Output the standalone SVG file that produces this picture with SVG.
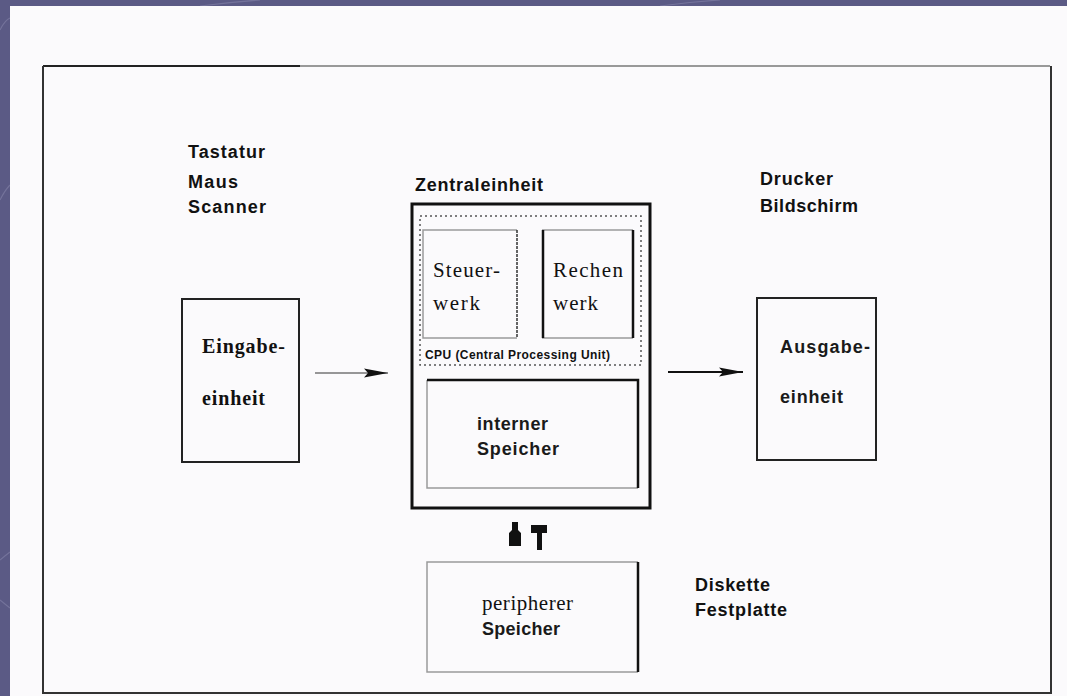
<svg xmlns="http://www.w3.org/2000/svg" width="1067" height="696" viewBox="0 0 1067 696">
<defs>
<style>
.bg{fill:#5b5a85}
.paper{fill:#fbfafc}
.lbl{font-family:"Liberation Sans",Arial,sans-serif;font-weight:bold;font-size:18px;fill:#111}
.ser{font-family:"Liberation Serif","Times New Roman",serif;font-size:21px;fill:#111}
.serb{font-family:"Liberation Serif","Times New Roman",serif;font-weight:bold;font-size:20px;fill:#111}
.san{font-family:"Liberation Sans",Arial,sans-serif;font-weight:bold;font-size:18px;fill:#1a1a1a}
.faint{stroke:#9a9a9a;stroke-width:1.5;fill:none}
.dark{stroke:#111;stroke-width:2.5;fill:none}
.dot{fill:none;stroke:#555;stroke-width:1.5;stroke-dasharray:2 3}
</style>
<marker id="ah" viewBox="0 0 24 10" refX="24" refY="5" markerWidth="24" markerHeight="10" markerUnits="userSpaceOnUse" orient="auto">
<path d="M0,0.5 L4,5 L0,9.5 L24,5 Z" fill="#111"/>
</marker>
</defs>
<rect class="bg" x="0" y="0" width="1067" height="696"/>
<g fill="none" stroke="#7a79a0" stroke-width="1.2" opacity="0.8">
<path d="M0,30 Q5,20 10,18"/>
<path d="M0,200 Q5,190 10,185"/>
<path d="M0,560 Q6,555 10,552"/>
<path d="M0,600 Q6,605 10,608"/>
<path d="M200,6 Q230,2 260,0"/>
<path d="M660,6 Q690,2 720,0"/>
</g>
<rect class="paper" x="10" y="6" width="1057" height="690"/>
<g id="frame">
<path d="M43,66 L1050,66" stroke="#999" stroke-width="2" fill="none"/>
<path d="M43,66 L300,66" stroke="#222" stroke-width="2" fill="none"/>
<path d="M43,66 L43,693 L1051,693 L1051,66" stroke="#333" stroke-width="2" fill="none"/>
</g>
<g id="input-devices">
<text class="lbl" x="188" y="158" textLength="77">Tastatur</text>
<text class="lbl" x="188" y="188" textLength="50">Maus</text>
<text class="lbl" x="188" y="213" textLength="78">Scanner</text>
</g>
<g id="eingabe">
<rect x="182" y="299" width="117" height="163" fill="none" stroke="#222" stroke-width="2"/>
<text class="serb" x="202" y="353" textLength="83">Eingabe-</text>
<text class="serb" x="202" y="405" textLength="63">einheit</text>
</g>
<g id="zentraleinheit">
<text class="lbl" x="415" y="191" textLength="128">Zentraleinheit</text>
<rect x="412" y="204" width="238" height="304" fill="none" stroke="#111" stroke-width="3"/>
</g>
<g id="cpu">
<rect class="dot" x="420" y="216" width="221" height="149"/>
<text x="425" y="359" font-family="Liberation Sans,Arial,sans-serif" font-weight="bold" font-size="12" fill="#111" textLength="185">CPU (Central Processing Unit)</text>
</g>
<g id="steuerwerk">
<path class="faint" d="M517,230 L423,230 L423,338 L517,338"/>
<path d="M517,230 L517,338" stroke="#333" stroke-width="1.5" stroke-dasharray="3 1"/>
<text class="ser" x="433" y="277" textLength="67">Steuer-</text>
<text class="ser" x="433" y="310" textLength="47">werk</text>
</g>
<g id="rechenwerk">
<path class="faint" d="M542,230 L633,230 M542,338 L633,338"/>
<path class="dark" d="M543,230 L543,338 M633,230 L633,338"/>
<text class="ser" x="553" y="277" textLength="70">Rechen</text>
<text class="ser" x="553" y="310" textLength="45">werk</text>
</g>
<g id="interner-speicher">
<path class="faint" d="M427,380 L427,488 L638,488"/>
<path class="dark" d="M427,380 L638,380 L638,488"/>
<text class="san" x="477" y="430" textLength="71">interner</text>
<text class="san" x="477" y="455" textLength="82">Speicher</text>
</g>
<g id="peripherer-speicher">
<path class="faint" d="M638,562 L427,562 L427,672 L638,672"/>
<path class="dark" d="M638,562 L638,672"/>
<text class="ser" x="482" y="610" font-size="19" textLength="91">peripherer</text>
<text class="san" x="482" y="635" textLength="78">Speicher</text>
</g>
<g id="storage-devices">
<text class="lbl" x="695" y="591" textLength="75">Diskette</text>
<text class="lbl" x="695" y="616" textLength="92">Festplatte</text>
</g>
<g id="output-devices">
<text class="lbl" x="760" y="185" textLength="73">Drucker</text>
<text class="lbl" x="760" y="212" textLength="98">Bildschirm</text>
</g>
<g id="ausgabe">
<rect x="757" y="298" width="119" height="162" fill="none" stroke="#222" stroke-width="2"/>
<text class="san" x="780" y="353" textLength="90">Ausgabe-</text>
<text class="san" x="780" y="403" textLength="63">einheit</text>
</g>
<g id="connectors">
<line x1="315" y1="373" x2="388" y2="373" stroke="#333" stroke-width="1" marker-end="url(#ah)"/>
<line x1="668" y1="372" x2="743" y2="372" stroke="#111" stroke-width="2" marker-end="url(#ah)"/>
<path d="M512,522 L518,522 L518,530 L521,533 L521,546 L509,546 L509,533 L512,530 Z" fill="#111"/>
<path d="M531,525 L547,525 L547,533 L542,533 L542,550 L537,550 L537,533 L531,533 Z" fill="#111"/>
</g>
</svg>
